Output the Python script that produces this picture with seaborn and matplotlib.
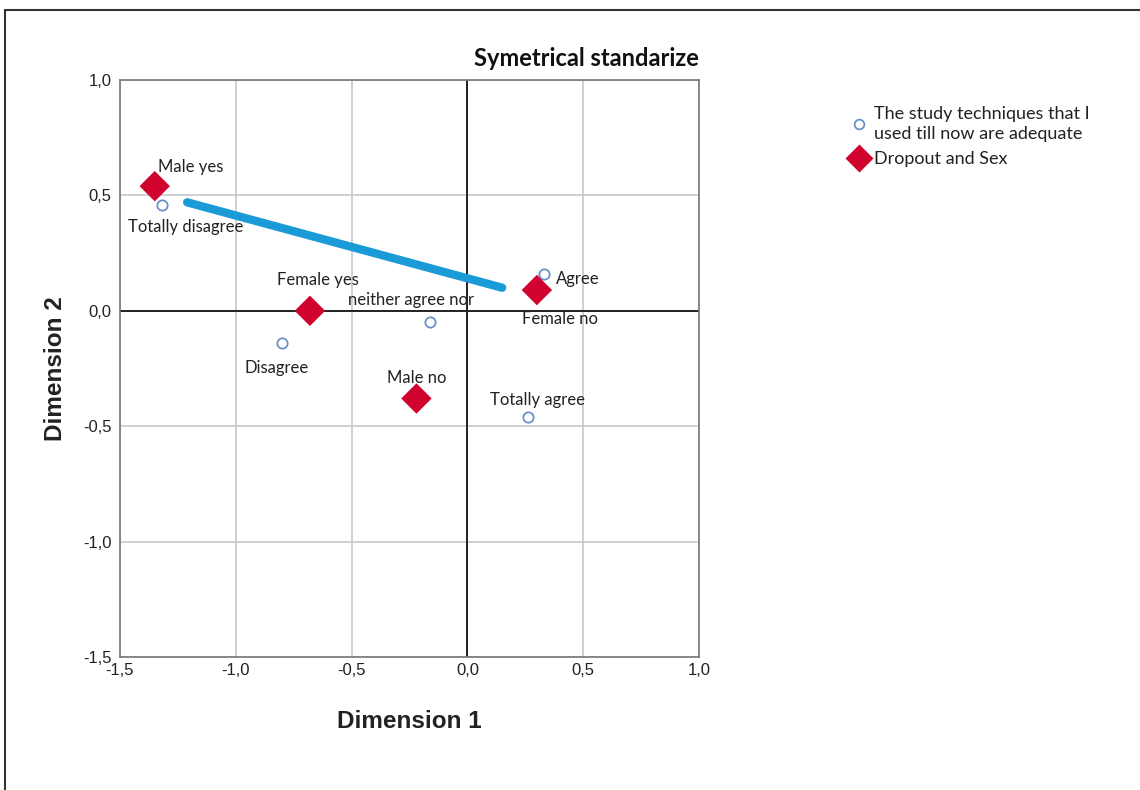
import matplotlib
matplotlib.use("Agg")
import matplotlib.pyplot as plt
import seaborn as sns
import pandas as pd
from matplotlib.lines import Line2D

# ---- data ----
study_labels = ["Totally disagree", "Disagree", "neither agree nor", "Agree", "Totally agree"]
study_x = [-1.32, -0.80, -0.16, 0.33, 0.26]
study_y = [0.46, -0.14, -0.05, 0.16, -0.46]

dropout_labels = ["Male yes", "Female yes", "Male no", "Female no"]
dropout_x = [-1.35, -0.68, -0.22, 0.30]
dropout_y = [0.54, 0.00, -0.38, 0.09]

line_x = [-1.21, 0.15]
line_y = [0.47, 0.10]

tick_vals_x = [-1.5, -1.0, -0.5, 0.0, 0.5, 1.0]
tick_labels_x = ["-1,5", "-1,0", "-0,5", "0,0", "0,5", "1,0"]
tick_vals_y = [-1.5, -1.0, -0.5, 0.0, 0.5, 1.0]
tick_labels_y = ["-1,5", "-1,0", "-0,5", "0,0", "0,5", "1,0"]

legend_study = "The study techniques that I\nused till now are adequate"
legend_dropout = "Dropout and Sex"

sns.set_style("white")
plt.rcParams['font.family'] = ['Liberation Sans', 'DejaVu Sans']

fig = plt.figure(figsize=(11.4, 7.9), dpi=100)
ax = fig.add_axes([120/1140, 1-657/790, 579/1140, 577/790])

study_df = pd.DataFrame({"x": study_x, "y": study_y, "label": study_labels})
drop_df = pd.DataFrame({"x": dropout_x, "y": dropout_y, "label": dropout_labels})

ax.set_xlim(-1.5, 1.0)
ax.set_ylim(-1.5, 1.0)
for v in tick_vals_x:
    ax.axvline(v, color="#c8c8c8", lw=1.2, zorder=0)
for v in tick_vals_y:
    ax.axhline(v, color="#c8c8c8", lw=1.2, zorder=0)
ax.axvline(0, color="#222222", lw=1.4, zorder=1)
ax.axhline(0, color="#222222", lw=1.4, zorder=1)

sns.lineplot(x=line_x, y=line_y, ax=ax, color="#1a9ad6", lw=6, zorder=2,
             solid_capstyle="round", legend=False)
sns.scatterplot(data=study_df, x="x", y="y", ax=ax, marker="o", s=55,
                facecolor="white", edgecolor="#6a92c8", linewidth=1.3, zorder=3, legend=False)
sns.scatterplot(data=drop_df, x="x", y="y", ax=ax, marker="D", s=240,
                color="#d0022e", edgecolor="none", linewidth=0, zorder=4, legend=False)

lab_font = dict(family="Lato", fontsize=12, color="#222222")
# label offsets in points (text placement style)
offsets = {
    "Totally disagree": (17, -16, "center"),
    "Disagree": (-4, -18, "center"),
    "neither agree nor": (-14, 16, "center"),
    "Agree": (9, -4, "left"),
    "Totally agree": (7, 12, "center"),
    "Male yes": (26, 14, "center"),
    "Female yes": (6, 22, "center"),
    "Male no": (0, 15, "center"),
    "Female no": (17, -21, "center"),
}
for lbl, x, y in zip(study_labels + dropout_labels, study_x + dropout_x, study_y + dropout_y):
    dx, dy, ha = offsets[lbl]
    ax.annotate(lbl, (x, y), xytext=(dx, dy), textcoords="offset points",
                ha=ha, va="center", zorder=5, **lab_font)

ax.set_xticks(tick_vals_x)
ax.set_xticklabels(tick_labels_x, fontsize=12, color="#222222")
ax.set_yticks(tick_vals_y)
ax.set_yticklabels(tick_labels_y, fontsize=12, color="#222222")
ax.tick_params(axis="y", length=4, width=1, color="#555555", pad=2)
ax.tick_params(axis="x", length=0, pad=4)
for s in ax.spines.values():
    s.set_color("#777777")
    s.set_linewidth(1.2)

ax.set_xlabel("Dimension 1", fontsize=17.5, fontweight="bold", color="#222222", labelpad=23)
ax.set_ylabel("Dimension 2", fontsize=17.5, fontweight="bold", color="#222222", labelpad=12)
ax.set_title("Symetrical standarize", loc="right", family="Lato", fontweight="bold",
             fontsize=17, color="#111111", pad=10)

handles = [
    Line2D([], [], marker="o", linestyle="none", markersize=7, markerfacecolor="white",
           markeredgecolor="#6a92c8", markeredgewidth=1.3),
    Line2D([], [], marker="D", linestyle="none", markersize=14, markerfacecolor="#d0022e",
           markeredgecolor="none"),
]
leg = fig.legend(handles, [legend_study, legend_dropout], loc="upper left",
                 bbox_to_anchor=(832/1140, 1-90/790), frameon=False,
                 prop=dict(family="Lato", size=13), handletextpad=0.2,
                 handlelength=1.2, labelspacing=0.5)
for t in leg.get_texts():
    t.set_color("#222222")
    t.set_linespacing(1.3)

# figure frame (top and left edges)
fig.add_artist(Line2D([5/1140, 1.0], [1-10/790, 1-10/790], transform=fig.transFigure,
                      color="#333333", lw=1.5))
fig.add_artist(Line2D([5/1140, 5/1140], [0, 1-10/790], transform=fig.transFigure,
                      color="#333333", lw=1.5))

fig.savefig("out.png", dpi=100, facecolor="white")
